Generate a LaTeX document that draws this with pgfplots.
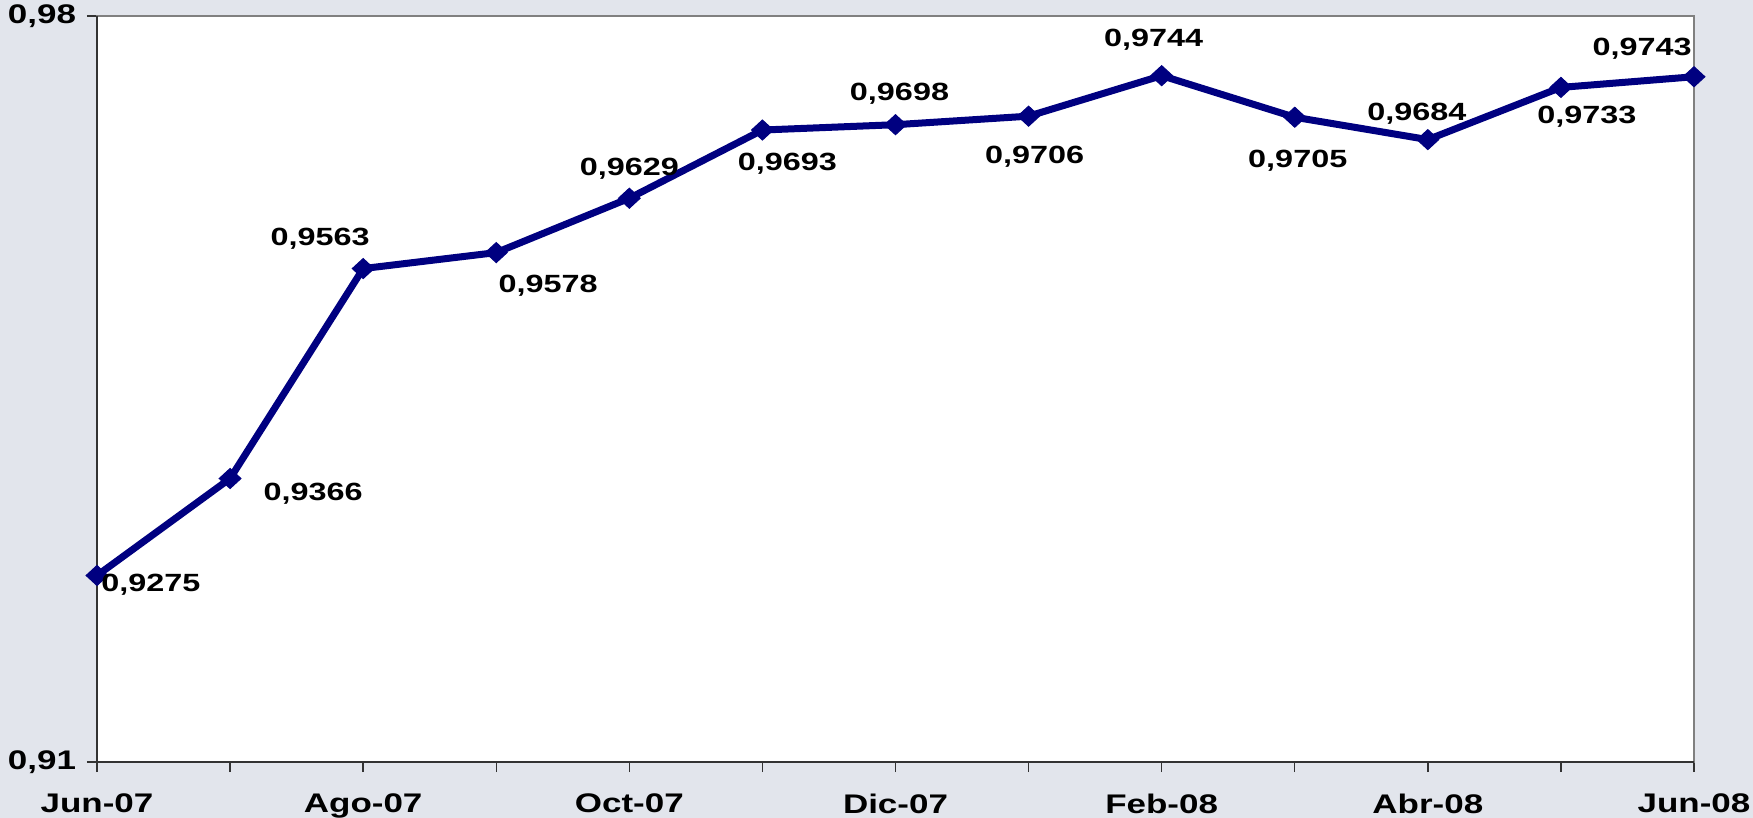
\documentclass[border=0pt]{standalone}
\usepackage{pgfplots}
\pgfplotsset{compat=1.18}
\usepackage{pgfplotstable}
\usepackage{fontspec}
\setmainfont{Liberation Sans}[FakeStretch=1.3]
\definecolor{navyline}{RGB}{0,0,128}
\definecolor{bg}{RGB}{226,229,236}
\pgfplotstableread{
x y lab dx dy
0 0.9275 0,9275 27 -4.5
1 0.9366 0,9366 41.5 -7.5
2 0.9563 0,9563 -21.5 15
3 0.9578 0,9578 26 -16.5
4 0.9629 0,9629 0 15
5 0.9693 0,9693 12.5 -17
6 0.9698 0,9698 2 15.5
7 0.9706 0,9706 3 -20.5
8 0.9744 0,9744 -4 18
9 0.9705 0,9705 1.5 -21.5
10 0.9684 0,9684 -5.5 13
11 0.9733 0,9733 13 -14.5
12 0.9743 0,9743 -26 14
}\datatable
\begin{document}
\begin{tikzpicture}
\useasboundingbox (0,0) rectangle (876.5bp,409bp);
\fill[bg] (0,0) rectangle (876.5bp,409bp);
\begin{axis}[
  at={(48.5bp,28bp)}, anchor=south west,
  scale only axis, width=798.5bp, height=373bp,
  xmin=0, xmax=12, ymin=0.91, ymax=0.98,
  axis background/.style={fill=white},
  xtick={0,...,12},
  xticklabels={Jun-07,,Ago-07,,Oct-07,,Dic-07,,Feb-08,,Abr-08,,Jun-08},
  ytick={0.91,0.98},
  yticklabels={{0,91},{0,98}},
  tick align=outside, tick pos=left,
  major tick length=5bp,
  tick style={black!80, line width=0.7bp},
  axis line style={gray, line width=1bp},
  ticklabel style={font=\fontsize{13.5}{14}\selectfont\bfseries},
  xticklabel style={yshift=-7.5bp},
  yticklabel style={xshift=-2bp},
  clip=false,
]
\addplot[navyline, line width=3.5bp, mark=diamond*, mark size=5bp,
  mark options={xscale=1.45, fill=navyline, line width=0.5bp},
  point meta=explicit symbolic,
  nodes near coords,
  visualization depends on={\thisrow{dx}\as\dx},
  visualization depends on={\thisrow{dy}\as\dy},
  every node near coord/.append style={anchor=center, xshift=\dx bp, yshift=\dy bp,
    font=\fontsize{12.5}{13}\selectfont\bfseries, text=black}
] table[x=x, y=y, meta=lab]{\datatable};
\draw[black!80, line width=1bp] (rel axis cs:0,1) -- (rel axis cs:0,0) -- (rel axis cs:1,0);
\end{axis}
\end{tikzpicture}
\end{document}
